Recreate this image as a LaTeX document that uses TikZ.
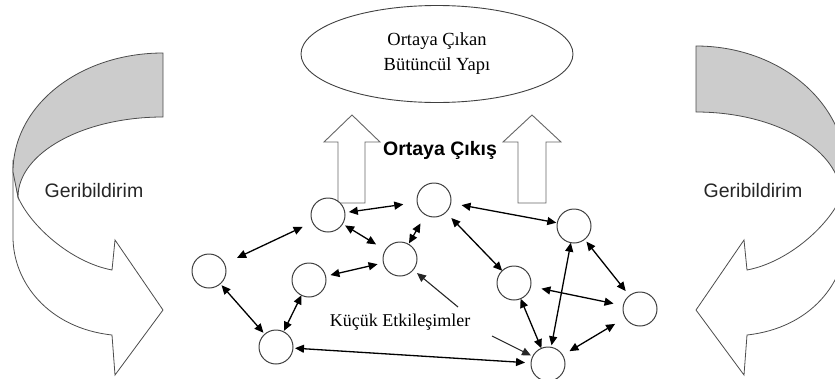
\documentclass[tikz,border=0pt]{standalone}
\usepackage{fontspec}
\setmainfont{Liberation Serif}
\setsansfont{Liberation Sans}
\usetikzlibrary{arrows.meta,shapes.geometric}
\tikzset{
  dot/.style={circle,draw=black!75,line width=1pt,fill=white,minimum size=34pt,inner sep=0pt,outer sep=0pt},
  link/.style={{Triangle[length=9pt,width=8pt]}-{Triangle[length=9pt,width=8pt]},line width=1.3pt,black},
  pointer/.style={-{Triangle[length=9pt,width=8pt]},line width=1.1pt,black!85},
  band/.style={draw=black!70,line width=0.8pt,fill=black!20},
  whiteband/.style={draw=black!70,line width=0.8pt,fill=white},
  uparrow/.style={draw=black!60,line width=0.9pt,fill=white},
  sanslabel/.style={font=\sffamily\fontsize{19.5}{22}\selectfont,text=black!85},
}
\begin{document}
\begin{tikzpicture}[x=1pt,y=-1pt]
\useasboundingbox (0,0) rectangle (835,378);
\clip (0,0) rectangle (835,378);
% ---- left feedback arrow ----
\path[whiteband] (13,160) -- (13,237) .. controls (13,282) and (48,328) .. (112,335)
  -- (115,375) -- (163,310) -- (115,240) -- (112,270)
  .. controls (70,262) and (30,225) .. (18,197) -- cycle;
\path[band] (163,53) -- (163,117) .. controls (83,117) and (18,153) .. (18,197)
  -- (13,172) .. controls (13,105) and (80,53) .. (163,53) -- cycle;
% ---- right feedback arrow ----
\path[whiteband] (846,160) -- (846,237) .. controls (846,282) and (811,328) .. (747,335)
  -- (744,375) -- (696,310) -- (744,240) -- (747,270)
  .. controls (789,262) and (829,225) .. (841,197) -- cycle;
\path[band] (696,46) -- (696,112) .. controls (776,112) and (841,150) .. (841,197)
  -- (846,172) .. controls (846,102) and (779,46) .. (696,46) -- cycle;
\node[sanslabel] (fbl) at (94,191) {Geribildirim};
\node[sanslabel] (fbr) at (753,191) {Geribildirim};
% ---- top ellipse ----
\node[ellipse,draw=black!75,line width=0.9pt,minimum width=272pt,minimum height=97pt,
  align=center,font=\fontsize{18.5}{25}\selectfont,inner sep=0pt] (whole) at (437,54)
  {Ortaya Çıkan\\Bütüncül Yapı};
% ---- emergence arrows ----
\path[uparrow] (338,203) -- (338,142) -- (324,142) -- (352,115) -- (380,142) -- (365,142) -- (365,203) -- cycle;
\path[uparrow] (518,203) -- (518,142) -- (503,142) -- (532,115) -- (561,142) -- (546,142) -- (546,203) -- cycle;
\node[font=\sffamily\bfseries\fontsize{19.5}{22}\selectfont] (emerge) at (440,150) {Ortaya Çıkış};
% ---- circles ----
\node[dot] (c1) at (328,215) {};
\node[dot] (c2) at (434,200) {};
\node[dot] (c3) at (400,259) {};
\node[dot] (c4) at (209,271) {};
\node[dot] (c5) at (309,280) {};
\node[dot] (c6) at (276,347) {};
\node[dot] (c7) at (574,226) {};
\node[dot] (c8) at (514,283) {};
\node[dot] (c9) at (640,309) {};
\node[dot] (c10) at (548,364) {};
% ---- interactions ----
\draw[link,shorten <=4pt,shorten >=14pt] (c1) -- (c2);
\draw[link,shorten <=3pt,shorten >=11pt] (c1) -- (c3);
\draw[link,shorten <=14pt,shorten >=11pt] (c4) -- (c1);
\draw[link,shorten <=5pt,shorten >=6pt] (c5) -- (c3);
\draw[link,shorten <=1pt,shorten >=10pt] (c3) -- (c2);
\draw[link,shorten <=2pt,shorten >=2pt] (c4) -- (c6);
\draw[link,shorten <=0pt,shorten >=1pt] (c5) -- (c6);
\draw[link,shorten <=2pt,shorten >=6pt] (c6) -- (c10);
\draw[link,shorten <=11pt,shorten >=1pt] (c2) -- (c7);
\draw[link,shorten <=8pt,shorten >=0pt] (c2) -- (c8);
\draw[link,shorten <=0pt,shorten >=0pt] (c8) -- (c10);
\draw[link,shorten <=0pt,shorten >=2pt] (c7) -- (c10);
\draw[link,shorten <=11pt,shorten >=10pt] (c8) -- (c9);
\draw[link,shorten <=3pt,shorten >=6pt] (c7) -- (c9);
\draw[link,shorten <=8pt,shorten >=12pt] (c10) -- (c9);
% ---- label ----
\node[font=\fontsize{18}{22}\selectfont] (small) at (400,322) {Küçük Etkileşimler};
\coordinate (p1) at (458,307);
\coordinate (p2) at (492,336);
\draw[pointer,shorten >=5pt] (p1) -- (c3);
\draw[pointer,shorten >=2pt] (p2) -- (c10);
\end{tikzpicture}
\end{document}
